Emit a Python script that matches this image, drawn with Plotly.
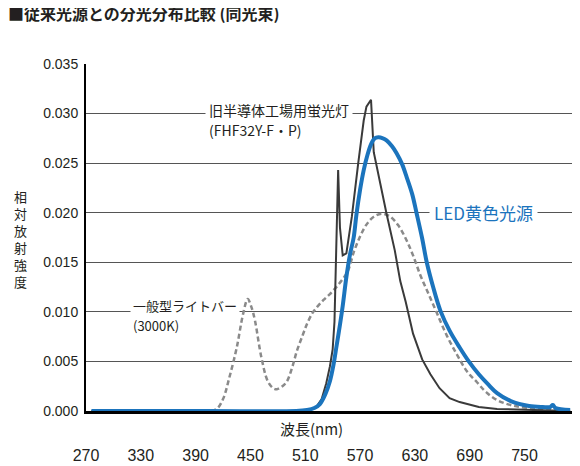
import plotly.graph_objects as go

# wavelength (nm) / relative radiant intensity
led_nm = [276, 400, 500, 512, 520, 526, 532, 537, 541, 544, 548, 551, 555, 559, 563, 566,
          570, 574, 578, 582, 586, 590, 595, 599, 605, 610, 616, 621, 627, 632, 638, 643,
          650, 658, 668, 679, 689, 700, 710, 720, 735, 755, 770, 778, 781, 784, 800]
led_val = [0.0, 0.0, 0.0, 0.0001, 0.0003, 0.0007, 0.0017, 0.003, 0.0047, 0.0064, 0.0087,
           0.0106, 0.0135, 0.0158, 0.0175, 0.0198, 0.0223, 0.0243, 0.0258, 0.0269, 0.0275,
           0.0276, 0.0275, 0.0273, 0.0267, 0.026, 0.0249, 0.0236, 0.0219, 0.0199, 0.0174,
           0.0150, 0.0125, 0.0101, 0.0081, 0.0064, 0.0050, 0.0037, 0.0027, 0.0018, 0.0010,
           0.0005, 0.0004, 0.0004, 0.0006, 0.0003, 0.0001]

fl_nm = [276, 500, 515, 522, 528, 533, 537, 540, 542, 544, 546, 548, 551, 555, 561, 568,
         574, 577, 582, 585, 592, 599, 608, 614, 620, 628, 638, 647, 657, 668, 679, 690,
         700, 720, 750, 800]
fl_val = [0.0, 0.0, 0.0001, 0.0004, 0.0012, 0.0028, 0.0045, 0.0062, 0.009, 0.016, 0.0243,
          0.0185, 0.0157, 0.0159, 0.0196, 0.025, 0.0293, 0.0307, 0.0314, 0.0261, 0.0229,
          0.0199, 0.0162, 0.0131, 0.011, 0.0078, 0.0052, 0.0037, 0.0023, 0.0013, 0.0009,
          0.0006, 0.0004, 0.0002, 0.0001, 0.0]

bar_nm = [276, 405, 413, 420, 427, 435, 442, 447, 451, 455, 462, 469, 475, 479, 485, 490,
          496, 501, 507, 512, 518, 524, 530, 537, 544, 551, 557, 563, 570, 577, 585, 594,
          603, 612, 621, 628, 636, 645, 654, 665, 676, 687, 698, 708, 720, 735, 755, 780, 800]
bar_val = [0.0, 0.0, 0.0002, 0.0012, 0.0034, 0.0064, 0.0098, 0.0113, 0.0105, 0.0091,
           0.0054, 0.003, 0.0023, 0.0022, 0.0025, 0.003, 0.0045, 0.0061, 0.0076, 0.0088,
           0.0099, 0.0106, 0.0112, 0.0118, 0.0125, 0.0133, 0.0142, 0.0160, 0.0176, 0.0188,
           0.0196, 0.0199, 0.0196, 0.0187, 0.0172, 0.0157, 0.0137, 0.0118, 0.0099, 0.0076,
           0.0057, 0.0040, 0.0029, 0.0019, 0.0011, 0.0006, 0.0003, 0.0002, 0.0001]

x_ticks = [270, 330, 390, 450, 510, 570, 630, 690, 750]
y_ticks = [0.0, 0.005, 0.010, 0.015, 0.020, 0.025, 0.030, 0.035]
grid_vals = [0.005, 0.010, 0.015, 0.020, 0.025, 0.030]

FONT = 'Liberation Sans, Noto Sans CJK JP, sans-serif'
JP = 'Noto Sans CJK JP, sans-serif'
BLUE = '#1b74bd'
TXT = '#231f20'

# page body adds an 8px margin, so the figure is 8px smaller than the window
W, H = 572, 458
PL, PT, PW, PH = 86, 64, 486, 347   # plot area in window pixels


def px(x):
    return (x - PL) / PW


def py(y):
    return (PT + PH - y) / PH


fig = go.Figure()
fig.add_trace(go.Scatter(x=bar_nm, y=bar_val, mode='lines',
                         line=dict(color='#8a8a8a', width=2.5, dash='5px,3px', shape='spline')))
fig.add_trace(go.Scatter(x=fl_nm, y=fl_val, mode='lines',
                         line=dict(color='#3a3a3a', width=2)))
fig.add_trace(go.Scatter(x=led_nm, y=led_val, mode='lines',
                         line=dict(color=BLUE, width=4, shape='spline')))

fig.update_layout(
    width=W, height=H,
    margin=dict(l=PL - 8, r=W + 8 - PL - PW, t=PT - 8, b=H + 8 - PT - PH),
    paper_bgcolor='white', plot_bgcolor='white',
    showlegend=False,
    font=dict(family=FONT, color=TXT),
    xaxis=dict(range=[270, 802], tickvals=x_ticks, showgrid=False, zeroline=False,
               showline=True, linecolor='black', linewidth=2.5, ticks='', automargin=False,
               ticklabelstandoff=28, tickfont=dict(size=16, color=TXT)),
    yaxis=dict(range=[0, 0.035], tickvals=y_ticks, tickformat='.3f', showgrid=False,
               zeroline=False, showline=True, linecolor='black', linewidth=2, ticks='',
               automargin=False, ticklabelstandoff=3, tickfont=dict(size=14, color=TXT),
               minor=dict(tickvals=grid_vals, showgrid=True, gridcolor='#555555',
                          gridwidth=1, ticks='')),
)

fig.add_annotation(text='■従来光源との分光分布比較 (同光束)', xref='paper', yref='paper',
                   x=px(6), y=py(13), xanchor='left', yanchor='middle',
                   showarrow=False, font=dict(family=JP, size=16, color=TXT, weight='bold'))
fig.add_annotation(text='相<br>対<br>放<br>射<br>強<br>度', xref='paper', yref='paper',
                   x=px(20), y=py(239), xanchor='center', yanchor='middle',
                   showarrow=False, font=dict(family=JP, size=13, color=TXT))
fig.add_annotation(text='波長(nm)', xref='paper', yref='paper',
                   x=px(311), y=py(428), xanchor='center', yanchor='middle',
                   showarrow=False, font=dict(family=JP, size=15, color=TXT))

fig.add_annotation(text='旧半導体工場用蛍光灯', x=400, y=0.030, xref='x', yref='y',
                   xanchor='left', yanchor='middle', yshift=4, showarrow=False,
                   bgcolor='white', borderpad=3, font=dict(family=JP, size=14, color=TXT))
fig.add_annotation(text='(FHF32Y-F・P)', x=400, y=0.030, xref='x', yref='y',
                   xanchor='left', yanchor='middle', yshift=-16, showarrow=False,
                   borderpad=3, font=dict(family=JP, size=14, color=TXT))
fig.add_annotation(text='一般型ライトバー', x=318, y=0.010, xref='x', yref='y',
                   xanchor='left', yanchor='middle', yshift=6, showarrow=False,
                   bgcolor='white', borderpad=2, font=dict(family=JP, size=13, color=TXT))
fig.add_annotation(text='(3000K)', x=318, y=0.010, xref='x', yref='y',
                   xanchor='left', yanchor='middle', yshift=-14, showarrow=False,
                   borderpad=2, font=dict(family=JP, size=13, color=TXT))
fig.add_annotation(text='LED黄色光源', x=645, y=0.020, xref='x', yref='y',
                   xanchor='left', yanchor='middle', showarrow=False, bgcolor='white',
                   borderpad=4, font=dict(family=JP, size=17, color=BLUE))

fig.write_html('out.html')
